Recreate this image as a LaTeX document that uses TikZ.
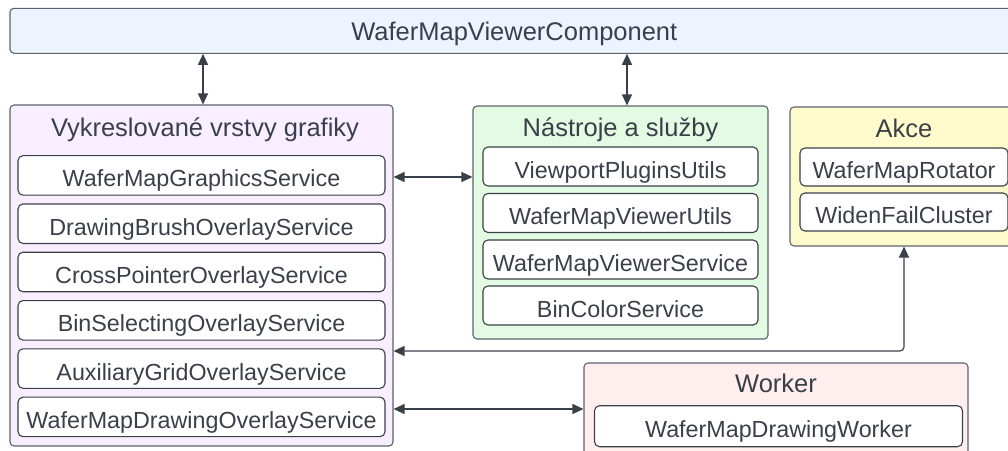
\documentclass[tikz,border=0pt]{standalone}
\usepackage{fontspec}
\setmainfont{Liberation Sans}
\usetikzlibrary{arrows.meta}

\definecolor{ink}{HTML}{3A4049}
\definecolor{edge}{HTML}{5C636D}
\definecolor{topfill}{HTML}{EDF4FF}
\definecolor{layerfill}{HTML}{F9EEFF}
\definecolor{toolfill}{HTML}{E3FAE3}
\definecolor{actfill}{HTML}{FFFBCC}
\definecolor{workfill}{HTML}{FFEEEE}

\tikzset{
  group/.style={draw=edge, line width=1.1pt, rounded corners=4pt, inner sep=0pt},
  % text height 23pt / depth 0 puts the baseline 11.5pt below the box centre
  item/.style={draw=ink, fill=white, line width=1.1pt, rounded corners=5pt,
    inner sep=0pt, text=ink, text height=23pt, text depth=0pt,
    font=\fontsize{23.3}{27}\selectfont},
  % text height 18 / depth 5 puts the baseline 6.5pt below the node centre
  title/.style={text=ink, inner sep=0pt, text height=18pt, text depth=5pt,
    font=\fontsize{25.5}{30}\selectfont},
  link/.style={draw=ink, line width=1.2pt,
    {Triangle[length=11pt,width=10pt]}-{Triangle[length=11pt,width=10pt]}},
}

\begin{document}
\begin{tikzpicture}[x=1pt,y=-1pt]
\useasboundingbox (0,0) rectangle (1008,450);
\clip (0,0) rectangle (1008,450);

% top component bar
\node[group, fill=topfill, minimum width=1008pt, minimum height=45pt] (top) at (514,30.8) {};
\node[title] (toptitle) at (514.3,33.5) {WaferMapViewerComponent};

% rendered graphics layers
\node[group, fill=layerfill, minimum width=383pt, minimum height=341pt] (layers) at (201.5,275.5) {};
\node[title] (layerstitle) at (205,130.2) {Vykreslované vrstvy grafiky};
\node[item, minimum width=367pt, minimum height=39.5pt] (l1) at (201.5,175.4) {WaferMapGraphicsService};
\node[item, minimum width=367pt, minimum height=39.5pt] (l2) at (201.5,223.7) {DrawingBrushOverlayService};
\node[item, minimum width=367pt, minimum height=39.5pt] (l3) at (201.5,272.0) {CrossPointerOverlayService};
\node[item, minimum width=367pt, minimum height=39.5pt] (l4) at (201.5,320.3) {BinSelectingOverlayService};
\node[item, minimum width=367pt, minimum height=39.5pt] (l5) at (201.5,368.6) {AuxiliaryGridOverlayService};
\node[item, minimum width=367pt, minimum height=39.5pt] (l6) at (201.5,416.9) {WaferMapDrawingOverlayService};

% tools and services
\node[group, fill=toolfill, minimum width=295pt, minimum height=233pt] (tools) at (620.5,222.5) {};
\node[title] (toolstitle) at (620.5,130.2) {Nástroje a služby};
\node[item, minimum width=275pt, minimum height=39pt] (t1) at (620.5,166.5) {ViewportPluginsUtils};
\node[item, minimum width=275pt, minimum height=39pt] (t2) at (620.5,213) {WaferMapViewerUtils};
\node[item, minimum width=275pt, minimum height=39pt] (t3) at (620.5,259.5) {WaferMapViewerService};
\node[item, minimum width=275pt, minimum height=39pt] (t4) at (620.5,305.5) {BinColorService};

% actions
\node[group, fill=actfill, minimum width=228pt, minimum height=139pt] (acts) at (904,176.5) {};
\node[title] (actstitle) at (904,131.2) {Akce};
\node[item, minimum width=208pt, minimum height=38pt] (a1) at (904,167) {WaferMapRotator};
\node[item, minimum width=208pt, minimum height=38pt] (a2) at (904,212) {WidenFailCluster};

% worker
\node[group, fill=workfill, minimum width=384pt, minimum height=110pt] (work) at (776,418) {};
\node[title] (worktitle) at (776,385.8) {Worker};
\node[item, minimum width=368pt, minimum height=41pt] (w1) at (778.5,426.2) {WaferMapDrawingWorker};

% connector levels
\coordinate (yl) at (0,177);
\coordinate (ya) at (0,351);
\coordinate (yw) at (0,409);
\coordinate (xl) at (203,0);
\coordinate (xt) at (627,0);

% connectors
\draw[link] (top.south -| xl) -- (layers.north -| xl);
\draw[link] (top.south -| xt) -- (tools.north -| xt);
\draw[link] (layers.east |- yl) -- (tools.west |- yl);
\draw[link, rounded corners=4pt] (layers.east |- ya) -- (acts.south |- ya) -- (acts.south);
\draw[link] (layers.east |- yw) -- (work.west |- yw);
\end{tikzpicture}
\end{document}
